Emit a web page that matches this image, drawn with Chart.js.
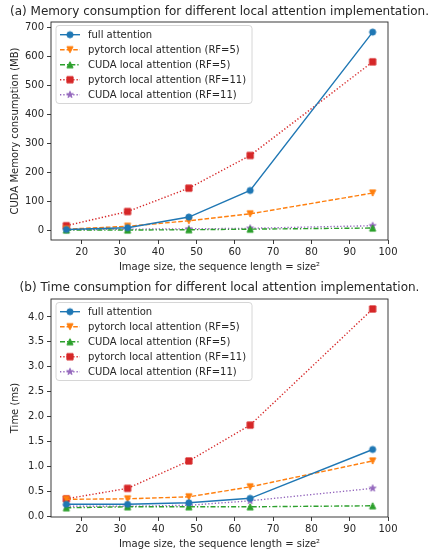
<!DOCTYPE html>
<html lang="en">
<head>
<meta charset="UTF-8">
<title>Local attention: memory and time</title>
<script src="https://cdn.jsdelivr.net/npm/chart.js"></script>
<style>
  html, body { margin: 0; padding: 0; background: #fff; }
  .panel { position: absolute; left: 0; width: 433px; }
</style>
</head>
<body>
<div class="panel" style="top:0;height:276px"><canvas id="memChart"></canvas></div>
<div class="panel" style="top:276px;height:277px"><canvas id="timeChart"></canvas></div>

<script>
// ---- data ----
const imageSizes = [16, 32, 48, 64, 96];
const xTicks = [20, 30, 40, 50, 60, 70, 80, 90, 100];

const seriesNames = [
  'full attention',
  'pytorch local attention (RF=5)',
  'CUDA local attention (RF=5)',
  'pytorch local attention (RF=11)',
  'CUDA local attention (RF=11)'
];

// (a) memory, MB
const memFull      = [2, 8, 45, 137, 685];
const memTorchRF5  = [3, 13, 32, 56, 128];
const memCudaRF5   = [0, 0, 1, 3, 7];
const memTorchRF11 = [15, 64, 145, 258, 582];
const memCudaRF11  = [1, 3, 4, 6, 15];
const memTicks = [0, 100, 200, 300, 400, 500, 600, 700];

// (b) time, ms
const timeFull      = [0.24, 0.24, 0.27, 0.36, 1.34];
const timeTorchRF5  = [0.34, 0.35, 0.39, 0.59, 1.11];
const timeCudaRF5   = [0.17, 0.19, 0.19, 0.19, 0.21];
const timeTorchRF11 = [0.35, 0.56, 1.11, 1.83, 4.16];
const timeCudaRF11  = [0.20, 0.20, 0.22, 0.31, 0.56];
const timeTicks = [0, 0.5, 1.0, 1.5, 2.0, 2.5, 3.0, 3.5, 4.0];

// ---- styling ----
const FONT = 'DejaVu Sans';
const INK = '#262626';
const colors = ['#1f77b4', '#ff7f0e', '#2ca02c', '#d62728', '#9467bd'];
const dashes = [[], [4.6, 2], [5, 2, 1.3, 2], [1.3, 2], [1.3, 2]];
const shapes = ['circle', 'tridown', 'triup', 'square', 'star'];

// matplotlib-like markers drawn to small canvases
function makeMarker(shape, color) {
  const c = document.createElement('canvas');
  c.width = 12; c.height = 12;
  const g = c.getContext('2d');
  g.translate(6, 6);
  g.fillStyle = color;
  g.strokeStyle = color;
  g.lineWidth = 1;
  g.beginPath();
  const r = 3.1;
  if (shape === 'circle') {
    g.arc(0, 0, r, 0, Math.PI * 2);
  } else if (shape === 'square') {
    g.rect(-r, -r, 2 * r, 2 * r);
  } else if (shape === 'triup') {
    g.moveTo(0, -r); g.lineTo(r, r); g.lineTo(-r, r);
  } else if (shape === 'tridown') {
    g.moveTo(0, r); g.lineTo(r, -r); g.lineTo(-r, -r);
  } else if (shape === 'star') {
    for (let k = 0; k < 10; k++) {
      const rad = k % 2 === 0 ? r + 0.4 : (r + 0.4) * 0.382;
      const a = -Math.PI / 2 + k * Math.PI / 5;
      const px = rad * Math.cos(a), py = rad * Math.sin(a);
      if (k === 0) g.moveTo(px, py); else g.lineTo(px, py);
    }
  }
  g.closePath();
  g.fill();
  g.stroke();
  return c;
}
const markers = shapes.map((s, i) => makeMarker(s, colors[i]));

function buildDatasets(seriesList) {
  return seriesList.map((vals, i) => ({
    label: seriesNames[i],
    data: imageSizes.map((x, j) => ({ x: x, y: vals[j] })),
    borderColor: colors[i],
    backgroundColor: colors[i],
    borderWidth: 1.4,
    borderDash: dashes[i],
    pointStyle: markers[i],
    pointRadius: 4,
    fill: false,
    tension: 0
  }));
}

// frame around the axes + legend box in the upper left
const framePlugin = {
  id: 'frame',
  afterDraw(chart) {
    const a = chart.chartArea;
    const g = chart.ctx;
    g.save();
    g.strokeStyle = INK;
    g.lineWidth = 0.9;
    g.strokeRect(a.left, a.top, a.right - a.left, a.bottom - a.top);

    // legend
    const bx = a.left + 5, by = a.top + 3.5, bw = 196, bh = 78;
    g.beginPath();
    g.roundRect(bx, by, bw, bh, 3);
    g.fillStyle = 'rgba(255,255,255,0.8)';
    g.fill();
    g.strokeStyle = '#cccccc';
    g.lineWidth = 0.8;
    g.stroke();

    g.font = '10px "' + FONT + '"';
    g.textBaseline = 'middle';
    chart.data.datasets.forEach((ds, i) => {
      const y = a.top + 12.7 + i * 15;
      g.beginPath();
      g.setLineDash(dashes[i]);
      g.strokeStyle = colors[i];
      g.lineWidth = 1.4;
      g.moveTo(a.left + 9, y);
      g.lineTo(a.left + 29, y);
      g.stroke();
      g.setLineDash([]);
      g.drawImage(markers[i], a.left + 19 - 6, y - 6);
      g.fillStyle = INK;
      g.fillText(ds.label, a.left + 37, y + 0.5);
    });
    g.restore();
  }
};

function makeOptions(titleText, yMin, yMax, yTicks, yTitle, fmt, titlePad) {
  return {
    responsive: true,
    maintainAspectRatio: false,
    animation: false,
    layout: { padding: { left: 6, right: 0, top: 0, bottom: 0 } },
    plugins: {
      legend: { display: false },
      tooltip: { enabled: false },
      title: {
        display: true,
        text: titleText,
        color: INK,
        font: { family: FONT, size: 12, weight: 'normal', lineHeight: 1.2 },
        padding: titlePad
      }
    },
    scales: {
      x: {
        type: 'linear',
        min: 12,
        max: 100,
        afterBuildTicks: s => { s.ticks = xTicks.map(v => ({ value: v })); },
        afterFit: s => { s.height = 36; },
        grid: { drawOnChartArea: false, tickLength: 4, color: INK, lineWidth: 0.9 },
        border: { display: false },
        ticks: { color: INK, font: { family: FONT, size: 10 }, padding: 2, maxRotation: 0 },
        title: {
          display: true,
          text: 'Image size, the sequence length = size²',
          color: INK,
          font: { family: FONT, size: 10 },
          padding: { top: 0, bottom: 3 }
        }
      },
      y: {
        type: 'linear',
        min: yMin,
        max: yMax,
        afterBuildTicks: s => { s.ticks = yTicks.map(v => ({ value: v })); },
        afterFit: s => { s.width = 45; },
        grid: { drawOnChartArea: false, tickLength: 4, color: INK, lineWidth: 0.9 },
        border: { display: false },
        ticks: { color: INK, font: { family: FONT, size: 10 }, padding: 3, callback: fmt },
        title: {
          display: true,
          text: yTitle,
          color: INK,
          font: { family: FONT, size: 10 },
          padding: { top: 3, bottom: 3 }
        }
      },
      // empty right-hand strip so the title can span the full figure width
      yRight: {
        type: 'linear',
        position: 'right',
        afterFit: s => { s.width = 45; },
        grid: { display: false },
        border: { display: false },
        ticks: { display: false }
      }
    }
  };
}

new Chart(document.getElementById('memChart'), {
  type: 'line',
  data: { datasets: buildDatasets([memFull, memTorchRF5, memCudaRF5, memTorchRF11, memCudaRF11]) },
  options: makeOptions('(a) Memory consumption for different local attention implementation.',
    -34.5, 720, memTicks, 'CUDA Memory consumption (MB)', v => String(v), { top: 4.5, bottom: 3.1 }),
  plugins: [framePlugin]
});

new Chart(document.getElementById('timeChart'), {
  type: 'line',
  data: { datasets: buildDatasets([timeFull, timeTorchRF5, timeCudaRF5, timeTorchRF11, timeCudaRF11]) },
  options: makeOptions('(b) Time consumption for different local attention implementation.',
    -0.015, 4.36, timeTicks, 'Time (ms)', v => v.toFixed(1), { top: 5.1, bottom: 3.5 }),
  plugins: [framePlugin]
});
</script>
</body>
</html>
